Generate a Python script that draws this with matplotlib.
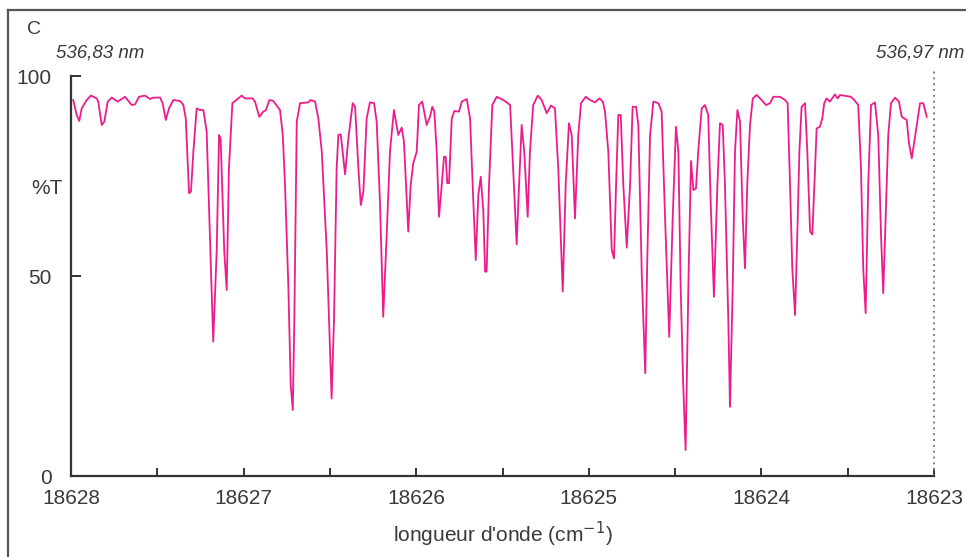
import matplotlib
matplotlib.use("Agg")
import matplotlib.pyplot as plt
from matplotlib.lines import Line2D

plt.rcParams['font.family'] = ['Liberation Sans', 'DejaVu Sans']

# Wavenumber (cm-1) and transmission (%T)
wavenumber = [
    18627.987, 18627.967, 18627.952, 18627.938, 18627.909, 18627.884, 18627.851, 18627.842,
    18627.822, 18627.807, 18627.787, 18627.764, 18627.729, 18627.687, 18627.648, 18627.629,
    18627.606, 18627.571, 18627.542, 18627.523, 18627.484, 18627.469, 18627.451, 18627.432,
    18627.407, 18627.368, 18627.349, 18627.335, 18627.316, 18627.305, 18627.291, 18627.272,
    18627.253, 18627.233, 18627.214, 18627.195, 18627.176, 18627.156, 18627.142, 18627.133,
    18627.112, 18627.098, 18627.085, 18627.065, 18627.011, 18626.992,
    18626.947, 18626.934, 18626.909, 18626.886, 18626.870, 18626.851, 18626.828, 18626.789,
    18626.773, 18626.760, 18626.741, 18626.727, 18626.715, 18626.706, 18626.692, 18626.673,
    18626.625, 18626.611, 18626.586, 18626.567, 18626.547, 18626.518, 18626.499, 18626.490,
    18626.476, 18626.461, 18626.451, 18626.437, 18626.412, 18626.393, 18626.368, 18626.354,
    18626.335, 18626.321, 18626.306, 18626.287, 18626.268, 18626.244, 18626.229, 18626.210,
    18626.191, 18626.171, 18626.152, 18626.129, 18626.104, 18626.084, 18626.071, 18626.046,
    18626.032, 18626.017, 18625.997,
    18625.984, 18625.965, 18625.939, 18625.920, 18625.907, 18625.895, 18625.881, 18625.868,
    18625.852, 18625.839, 18625.829, 18625.820, 18625.810, 18625.794, 18625.779, 18625.752,
    18625.736, 18625.707, 18625.688, 18625.669, 18625.655, 18625.640, 18625.626, 18625.611,
    18625.601, 18625.592, 18625.578, 18625.559, 18625.534, 18625.495, 18625.456, 18625.443,
    18625.418, 18625.404, 18625.389, 18625.374, 18625.354, 18625.341, 18625.322, 18625.296,
    18625.273, 18625.244, 18625.219, 18625.196, 18625.177, 18625.151, 18625.134, 18625.115,
    18625.099, 18625.080, 18625.061, 18625.045, 18625.018, 18624.993, 18624.964,
    18624.939, 18624.919, 18624.906, 18624.887, 18624.867, 18624.854, 18624.842, 18624.829,
    18624.815, 18624.800, 18624.780, 18624.761, 18624.746, 18624.726, 18624.713, 18624.693,
    18624.673, 18624.661, 18624.645, 18624.626, 18624.597, 18624.578, 18624.558, 18624.534,
    18624.514, 18624.495, 18624.481, 18624.468, 18624.453, 18624.439, 18624.423, 18624.408,
    18624.394, 18624.379, 18624.366, 18624.346, 18624.327, 18624.308, 18624.294, 18624.275,
    18624.255, 18624.240, 18624.224, 18624.211, 18624.192, 18624.182, 18624.166, 18624.153,
    18624.139, 18624.124, 18624.108, 18624.095, 18624.082, 18624.066, 18624.050, 18624.027,
    18624.008, 18623.973, 18623.950,
    18623.931, 18623.892, 18623.863, 18623.848, 18623.834, 18623.821, 18623.805, 18623.792,
    18623.780, 18623.767, 18623.747, 18623.734, 18623.718, 18623.705, 18623.689, 18623.680,
    18623.661, 18623.647, 18623.636, 18623.622, 18623.603, 18623.574, 18623.558, 18623.545,
    18623.481, 18623.462, 18623.439, 18623.423, 18623.410, 18623.396, 18623.381, 18623.365,
    18623.342, 18623.323, 18623.307, 18623.294, 18623.280, 18623.265, 18623.249, 18623.226,
    18623.203, 18623.187, 18623.158, 18623.145, 18623.129, 18623.114, 18623.094, 18623.081,
    18623.062, 18623.042,
]

transmission = [
    94.0, 90.25, 88.75, 91.9, 94.0, 95.1, 94.4, 93.6,
    87.75, 88.6, 93.6, 94.6, 93.6, 94.8, 92.75, 92.9,
    94.8, 95.1, 94.25, 94.6, 94.6, 93.2, 89.0, 91.9,
    94.0, 93.75, 92.75, 89.4, 70.7, 71.1, 81.1, 91.9,
    91.5, 91.5, 86.1, 60.25, 33.6, 56.1, 85.25, 84.4,
    56.1, 46.5, 76.9, 93.2, 95.1, 94.4,
    94.4, 93.6, 89.8, 91.1, 91.5, 94.0, 93.75, 91.5,
    85.25, 72.75, 47.75, 22.75, 16.5, 39.4, 88.6, 93.2,
    93.4, 94.0, 93.6, 89.4, 81.1, 56.1, 31.1, 19.4,
    39.4, 76.9, 85.25, 85.4, 75.4, 84.4, 93.2, 92.3,
    76.9, 67.75, 71.1, 89.4, 93.4, 93.2, 88.6, 68.6,
    39.8, 60.25, 81.1, 91.5, 85.25, 87.1, 83.6, 61.1,
    72.75, 78.2, 81.1,
    92.75, 93.6, 87.75, 89.8, 92.3, 91.1, 81.1, 64.8,
    72.75, 79.8, 79.8, 73.2, 73.2, 89.4, 91.25, 91.1,
    93.6, 94.25, 89.4, 68.6, 54.0, 70.25, 74.8, 66.1,
    51.1, 51.1, 72.75, 92.75, 94.8, 94.0, 92.75, 81.1,
    57.9, 72.75, 87.75, 81.1, 64.8, 81.1, 92.75, 95.1,
    94.0, 90.7, 92.6, 91.9, 76.9, 46.1, 72.75, 88.2,
    85.25, 64.4, 85.25, 93.2, 94.8, 94.0, 93.4,
    94.4, 93.6, 91.1, 81.1, 56.5, 54.4, 72.75, 90.25,
    90.25, 72.75, 57.1, 72.75, 92.3, 92.3, 87.75, 50.25,
    25.7, 54.4, 85.25, 93.6, 93.2, 91.1, 64.4, 34.8,
    64.4, 87.3, 81.1, 47.75, 22.75, 6.5, 47.75, 78.75,
    71.5, 71.9, 81.1, 91.9, 92.75, 90.25, 68.6, 44.8,
    72.75, 88.2, 87.75, 72.75, 39.4, 17.3, 47.75, 81.1,
    91.5, 88.6, 64.4, 51.9, 72.75, 87.75, 94.4, 95.25,
    94.4, 92.75, 93.2,
    94.8, 94.8, 94.0, 93.2, 72.75, 51.9, 40.25, 60.25,
    81.1, 92.3, 93.2, 81.1, 61.1, 60.4, 76.9, 86.9,
    87.3, 89.4, 93.2, 94.4, 93.6, 95.4, 94.4, 95.25,
    94.8, 94.0, 92.75, 76.9, 51.9, 40.7, 72.75, 92.75,
    93.4, 85.25, 60.25, 45.7, 64.4, 85.25, 93.2, 94.6,
    93.6, 89.8, 89.0, 83.2, 79.4, 83.6, 89.4, 93.2,
    93.2, 89.8,
]

x_major = [18628, 18627, 18626, 18625, 18624, 18623]
x_minor = [18627.5, 18626.5, 18625.5, 18624.5, 18623.5]
y_ticks = [0, 50, 100]

axis_color = '#333333'
text_color = '#3a3a3a'
line_color = '#EC1C8C'

fig = plt.figure(figsize=(9.66, 5.57), dpi=100)
ax = fig.add_axes([71 / 966, 81 / 557, 863 / 966, 400 / 557])

ax.plot(wavenumber, transmission, color=line_color, lw=1.3, solid_joinstyle='round')

ax.set_xlim(18628, 18623)
ax.set_ylim(0, 100)

ax.set_xticks(x_major)
ax.set_xticks(x_minor, minor=True)
ax.set_xticklabels([str(v) for v in x_major])
ax.set_yticks(y_ticks)
ax.set_yticklabels([str(v) for v in y_ticks])

for s in ['top', 'right']:
    ax.spines[s].set_visible(False)
for s in ['left', 'bottom']:
    ax.spines[s].set_color(axis_color)
    ax.spines[s].set_linewidth(1.6)

ax.tick_params(axis='x', which='both', direction='in', length=6, width=1.4,
               color=axis_color, labelsize=15, labelcolor=text_color, pad=9)
ax.tick_params(axis='y', which='major', direction='in', length=7, width=1.4,
               color=axis_color, labelsize=15, labelcolor=text_color, pad=14)

ax.set_xlabel("longueur d'onde (cm$^{-1}$)", fontsize=15, color=text_color, labelpad=9)

# dotted line at right end
ax.plot([18623, 18623], [0, 102], ls=(0, (1, 2)), color='#808080', lw=1.4, clip_on=False)

# %T label
fig.text(47 / 966, 1 - 188 / 557, '%T', fontsize=15, color=text_color, ha='center', va='center')
fig.text(34 / 966, 1 - 30 / 557, 'C', fontsize=14, color=text_color, ha='center', va='center')
fig.text(56 / 966, 1 - 53 / 557, '536,83 nm', fontsize=13.5, style='italic',
         color=text_color, ha='left', va='center')
fig.text(964 / 966, 1 - 53 / 557, '536,97 nm', fontsize=13.5, style='italic',
         color=text_color, ha='right', va='center')

# frame lines (left and top)
fig.add_artist(Line2D([8 / 966, 8 / 966], [0, 1 - 10 / 557], color='#555555', lw=1.6))
fig.add_artist(Line2D([8 / 966, 1.0], [1 - 10 / 557, 1 - 10 / 557], color='#555555', lw=1.6))

fig.savefig('out.png', dpi=100)
